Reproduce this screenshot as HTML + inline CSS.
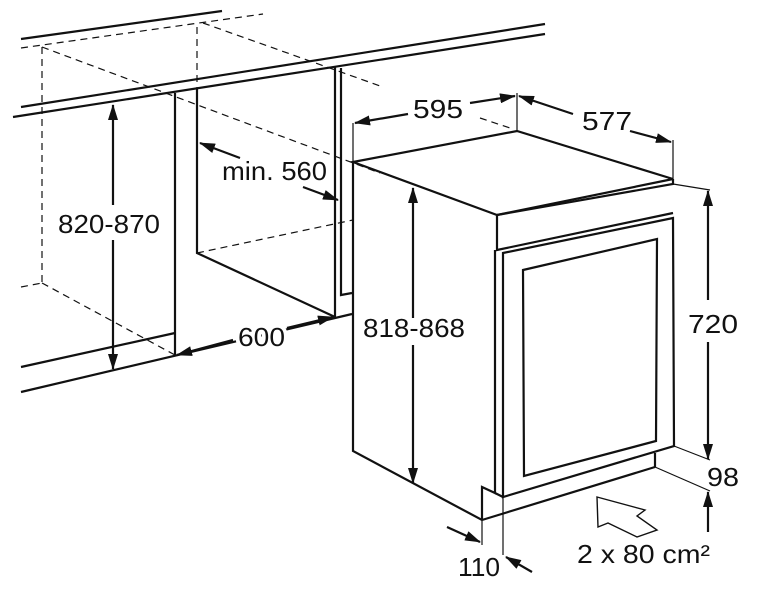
<!DOCTYPE html>
<html><head><meta charset="utf-8"><style>
html,body{margin:0;padding:0;background:#fff;}
svg{display:block;}
text{font-family:"Liberation Sans",sans-serif;font-size:26px;fill:#111;stroke:#fff;stroke-width:7px;paint-order:stroke;stroke-linejoin:round;}
</style></head><body>
<svg width="763" height="590" viewBox="0 0 763 590" xmlns="http://www.w3.org/2000/svg">
<defs>
<marker id="a" viewBox="0 0 16 10" refX="15" refY="5" markerWidth="16" markerHeight="10" markerUnits="userSpaceOnUse" orient="auto-start-reverse">
<path d="M0,0 L16,5 L0,10 Z" fill="#111"/></marker>
</defs>
<g stroke="#111" fill="none" stroke-width="2.2" stroke-linejoin="miter">
<line x1="21" y1="39" x2="222" y2="11"/>
<line x1="21" y1="107" x2="545" y2="24"/>
<line x1="13" y1="117" x2="545" y2="34"/>
<line x1="21" y1="367" x2="175" y2="333"/>
<line x1="21" y1="392" x2="352" y2="314"/>
<line x1="175" y1="93" x2="175" y2="356"/>
<polyline points="197,89 197,253 335,317"/>
<line x1="335" y1="67" x2="335" y2="317"/>
<polyline points="341,68 341,295 352,293"/>
<polygon points="353,162 517,131 673,179 497,215"/>
<polyline points="353,162 353,451 482,520 655,467"/>
<polyline points="497,215 673,184 673,179"/>
<polyline points="497,215 497,250 673,213"/>
<polygon points="503,253 673,218 674,446 503,497"/>
<polygon points="523,270 657,239 656,441 524,476"/>
<polyline points="482,520 482,487 495,493 495,250"/>
<line x1="495" y1="493" x2="503" y2="497"/>
<line x1="655" y1="453" x2="655" y2="467"/>
<polygon stroke-width="1.4" points="597,497 645,510 637,516 657,530 637,537 608,523 598,527"/>
</g>
<g stroke="#111" fill="none" stroke-width="1.2" stroke-dasharray="7,5">
<line x1="21" y1="48" x2="263" y2="14"/>
<line x1="42" y1="47" x2="42" y2="283"/>
<line x1="42" y1="47" x2="380" y2="173"/>
<line x1="197" y1="27" x2="197" y2="90"/>
<line x1="203" y1="23" x2="383" y2="87"/>
<line x1="21" y1="287" x2="42" y2="283"/>
<line x1="42" y1="283" x2="175" y2="355"/>
<line x1="197" y1="253" x2="353" y2="220"/>
<line x1="480" y1="118" x2="513" y2="129"/>
</g>
<g stroke="#111" fill="none" stroke-width="1.2">
<line x1="353" y1="123" x2="353" y2="162"/>
<line x1="517" y1="93" x2="517" y2="131"/>
<line x1="673" y1="140" x2="673" y2="179"/>
<line x1="673" y1="184" x2="710" y2="190"/>
<line x1="674" y1="446" x2="710" y2="460"/>
<line x1="655" y1="467" x2="710" y2="491"/>
<line x1="482" y1="520" x2="482" y2="545"/>
<line x1="503" y1="497" x2="503" y2="555"/>
</g>
<g stroke="#111" stroke-width="2.2" fill="none">
<line x1="113" y1="205" x2="113" y2="105" marker-end="url(#a)"/>
<line x1="113" y1="240" x2="113" y2="369" marker-end="url(#a)"/>
<line x1="240" y1="158" x2="200" y2="143" marker-end="url(#a)"/>
<line x1="303" y1="187" x2="338" y2="200" marker-end="url(#a)"/>
<line x1="233" y1="340" x2="177" y2="355" marker-end="url(#a)"/>
<line x1="287" y1="328" x2="333" y2="317" marker-end="url(#a)"/>
<line x1="408" y1="114" x2="355" y2="123" marker-end="url(#a)"/>
<line x1="470" y1="103" x2="515" y2="96" marker-end="url(#a)"/>
<line x1="573" y1="114" x2="519" y2="96" marker-end="url(#a)"/>
<line x1="630" y1="131" x2="671" y2="142" marker-end="url(#a)"/>
<line x1="413" y1="318" x2="413" y2="188" marker-end="url(#a)"/>
<line x1="413" y1="345" x2="413" y2="483" marker-end="url(#a)"/>
<line x1="708" y1="300" x2="708" y2="191" marker-end="url(#a)"/>
<line x1="708" y1="342" x2="708" y2="459" marker-end="url(#a)"/>
<line x1="708" y1="532" x2="708" y2="492" marker-end="url(#a)"/>
<line x1="447" y1="527" x2="480" y2="542" marker-end="url(#a)"/>
<line x1="532" y1="572" x2="506" y2="557" marker-end="url(#a)"/>
</g>
<text x="58" y="233" textLength="102" lengthAdjust="spacingAndGlyphs">820-870</text>
<text x="222" y="180" textLength="105" lengthAdjust="spacingAndGlyphs">min. 560</text>
<text x="238" y="346" textLength="47" lengthAdjust="spacingAndGlyphs">600</text>
<text x="413" y="118" textLength="50" lengthAdjust="spacingAndGlyphs">595</text>
<text x="582" y="130" textLength="50" lengthAdjust="spacingAndGlyphs">577</text>
<text x="363" y="337" textLength="102" lengthAdjust="spacingAndGlyphs">818-868</text>
<text x="688" y="333" textLength="50" lengthAdjust="spacingAndGlyphs">720</text>
<text x="707" y="486" textLength="32" lengthAdjust="spacingAndGlyphs">98</text>
<text x="458" y="576" textLength="42" lengthAdjust="spacingAndGlyphs">110</text>
<text x="577" y="563" textLength="133" lengthAdjust="spacingAndGlyphs">2 x 80 cm²</text>
</svg>
</body></html>
